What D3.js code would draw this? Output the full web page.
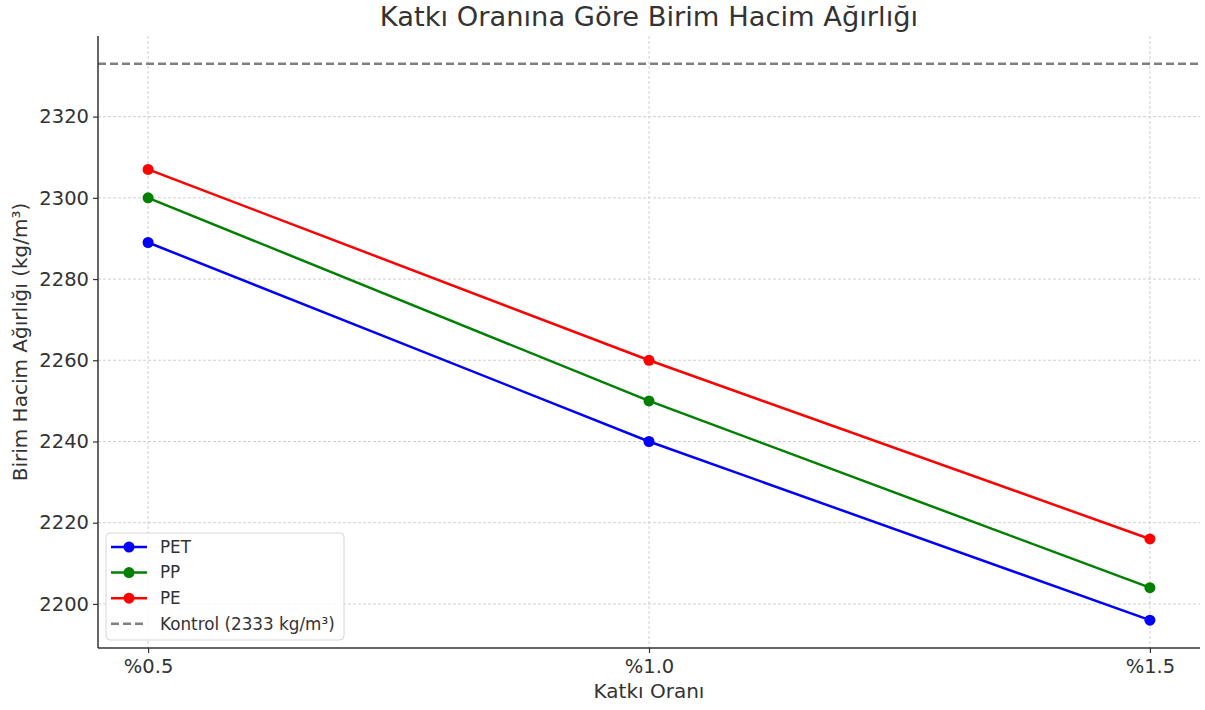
<html>
<head>
<script src="https://d3js.org/d3.v7.min.js"></script>
<style>
  body { margin: 0; background: #fff; }
  text { font-family: "DejaVu Sans", sans-serif; fill: #333; }
</style>
</head>
<body>
<svg id="chart" width="1205" height="710"></svg>
<script>
// data
var categories = ["%0.5", "%1.0", "%1.5"];
var pet = [2289, 2240, 2196];
var pp  = [2300, 2250, 2204];
var pe  = [2307, 2260, 2216];
var kontrol = 2333;
var yTicks = [2200, 2220, 2240, 2260, 2280, 2300, 2320];

var series = [
  {name: "PET", values: pet, color: "blue"},
  {name: "PP",  values: pp,  color: "green"},
  {name: "PE",  values: pe,  color: "red"}
];

var margin = {top: 36, right: 5, bottom: 62, left: 98};
var width = 1205 - margin.left - margin.right;
var height = 710 - margin.top - margin.bottom;

var svg = d3.select("#chart");
var g = svg.append("g").attr("transform", "translate(" + margin.left + "," + margin.top + ")");

// matplotlib style 5% padding on both axes
var allY = pet.concat(pp, pe, [kontrol]);
var ymin = d3.min(allY), ymax = d3.max(allY);
var pad = (ymax - ymin) * 0.05;
var y = d3.scaleLinear().domain([ymin - pad, ymax + pad]).range([height, 0]);
var x = d3.scaleLinear().domain([-0.1, categories.length - 1 + 0.1]).range([0, width]);

// grid
g.append("g").selectAll("line").data(yTicks).enter().append("line")
  .attr("x1", 0).attr("x2", width)
  .attr("y1", function(d) { return y(d); }).attr("y2", function(d) { return y(d); })
  .attr("stroke", "#d0d0d0").attr("stroke-width", 1).attr("stroke-dasharray", "3,2");
g.append("g").selectAll("line").data(d3.range(categories.length)).enter().append("line")
  .attr("y1", 0).attr("y2", height)
  .attr("x1", function(d) { return x(d); }).attr("x2", function(d) { return x(d); })
  .attr("stroke", "#d0d0d0").attr("stroke-width", 1).attr("stroke-dasharray", "3,2");

// control line
g.append("line")
  .attr("x1", 0).attr("x2", width)
  .attr("y1", y(kontrol)).attr("y2", y(kontrol))
  .attr("stroke", "gray").attr("stroke-width", 2.5).attr("stroke-dasharray", "8,4");

// axes
var yAxis = g.append("g")
  .call(d3.axisLeft(y).tickValues(yTicks).tickSize(5).tickPadding(4).tickFormat(d3.format("d")));
var xAxis = g.append("g").attr("transform", "translate(0," + height + ")")
  .call(d3.axisBottom(x).tickValues(d3.range(categories.length)).tickSize(5).tickPadding(6)
    .tickFormat(function(i) { return categories[i]; }));
[yAxis, xAxis].forEach(function(a) {
  a.select(".domain").attr("stroke", "#333").attr("stroke-width", 1.5);
  a.selectAll(".tick line").attr("stroke", "#333").attr("stroke-width", 1.2);
  a.selectAll(".tick text").attr("font-size", "19.5px").attr("fill", "#333").style("font-family", "DejaVu Sans");
});
// spines without end caps
yAxis.select(".domain").attr("d", "M0," + height + "V0");
xAxis.select(".domain").attr("d", "M0,0H" + width);

// lines and markers
var line = d3.line().x(function(d, i) { return x(i); }).y(function(d) { return y(d); });
series.forEach(function(s) {
  g.append("path").datum(s.values)
    .attr("d", line).attr("fill", "none")
    .attr("stroke", s.color).attr("stroke-width", 2.5);
  g.selectAll(null).data(s.values).enter().append("circle")
    .attr("cx", function(d, i) { return x(i); })
    .attr("cy", function(d) { return y(d); })
    .attr("r", 5.5).attr("fill", s.color);
});

// titles
svg.append("text").attr("x", margin.left + width / 2).attr("y", 26)
  .attr("text-anchor", "middle").attr("font-size", "27.3px")
  .text("Katkı Oranına Göre Birim Hacim Ağırlığı");
svg.append("text").attr("x", margin.left + width / 2).attr("y", 698)
  .attr("text-anchor", "middle").attr("font-size", "20px")
  .text("Katkı Oranı");
svg.append("text")
  .attr("transform", "translate(27," + (margin.top + height / 2) + ") rotate(-90)")
  .attr("text-anchor", "middle").attr("font-size", "20px")
  .text("Birim Hacim Ağırlığı (kg/m³)");

// legend
var legendItems = series.concat([{name: "Kontrol (" + kontrol + " kg/m³)", color: "gray", dashed: true}]);
var lg = g.append("g").attr("transform", "translate(8," + (533 - margin.top) + ")");
lg.append("rect").attr("width", 238).attr("height", 107).attr("rx", 4)
  .attr("fill", "white").attr("fill-opacity", 0.8)
  .attr("stroke", "#d6d6d6").attr("stroke-width", 1);
var li = lg.selectAll(".item").data(legendItems).enter().append("g")
  .attr("transform", function(d, i) { return "translate(0," + (14 + i * 25.6) + ")"; });
li.append("line").attr("x1", 5).attr("x2", 41).attr("y1", 0).attr("y2", 0)
  .attr("stroke", function(d) { return d.color; }).attr("stroke-width", 2.5)
  .attr("stroke-dasharray", function(d) { return d.dashed ? "8,4" : null; });
li.filter(function(d) { return !d.dashed; }).append("circle")
  .attr("cx", 23).attr("cy", 0).attr("r", 5.5).attr("fill", function(d) { return d.color; });
li.append("text").attr("x", 54).attr("y", 0).attr("dy", "0.35em")
  .attr("font-size", "16.8px").text(function(d) { return d.name; });
</script>
</body>
</html>
